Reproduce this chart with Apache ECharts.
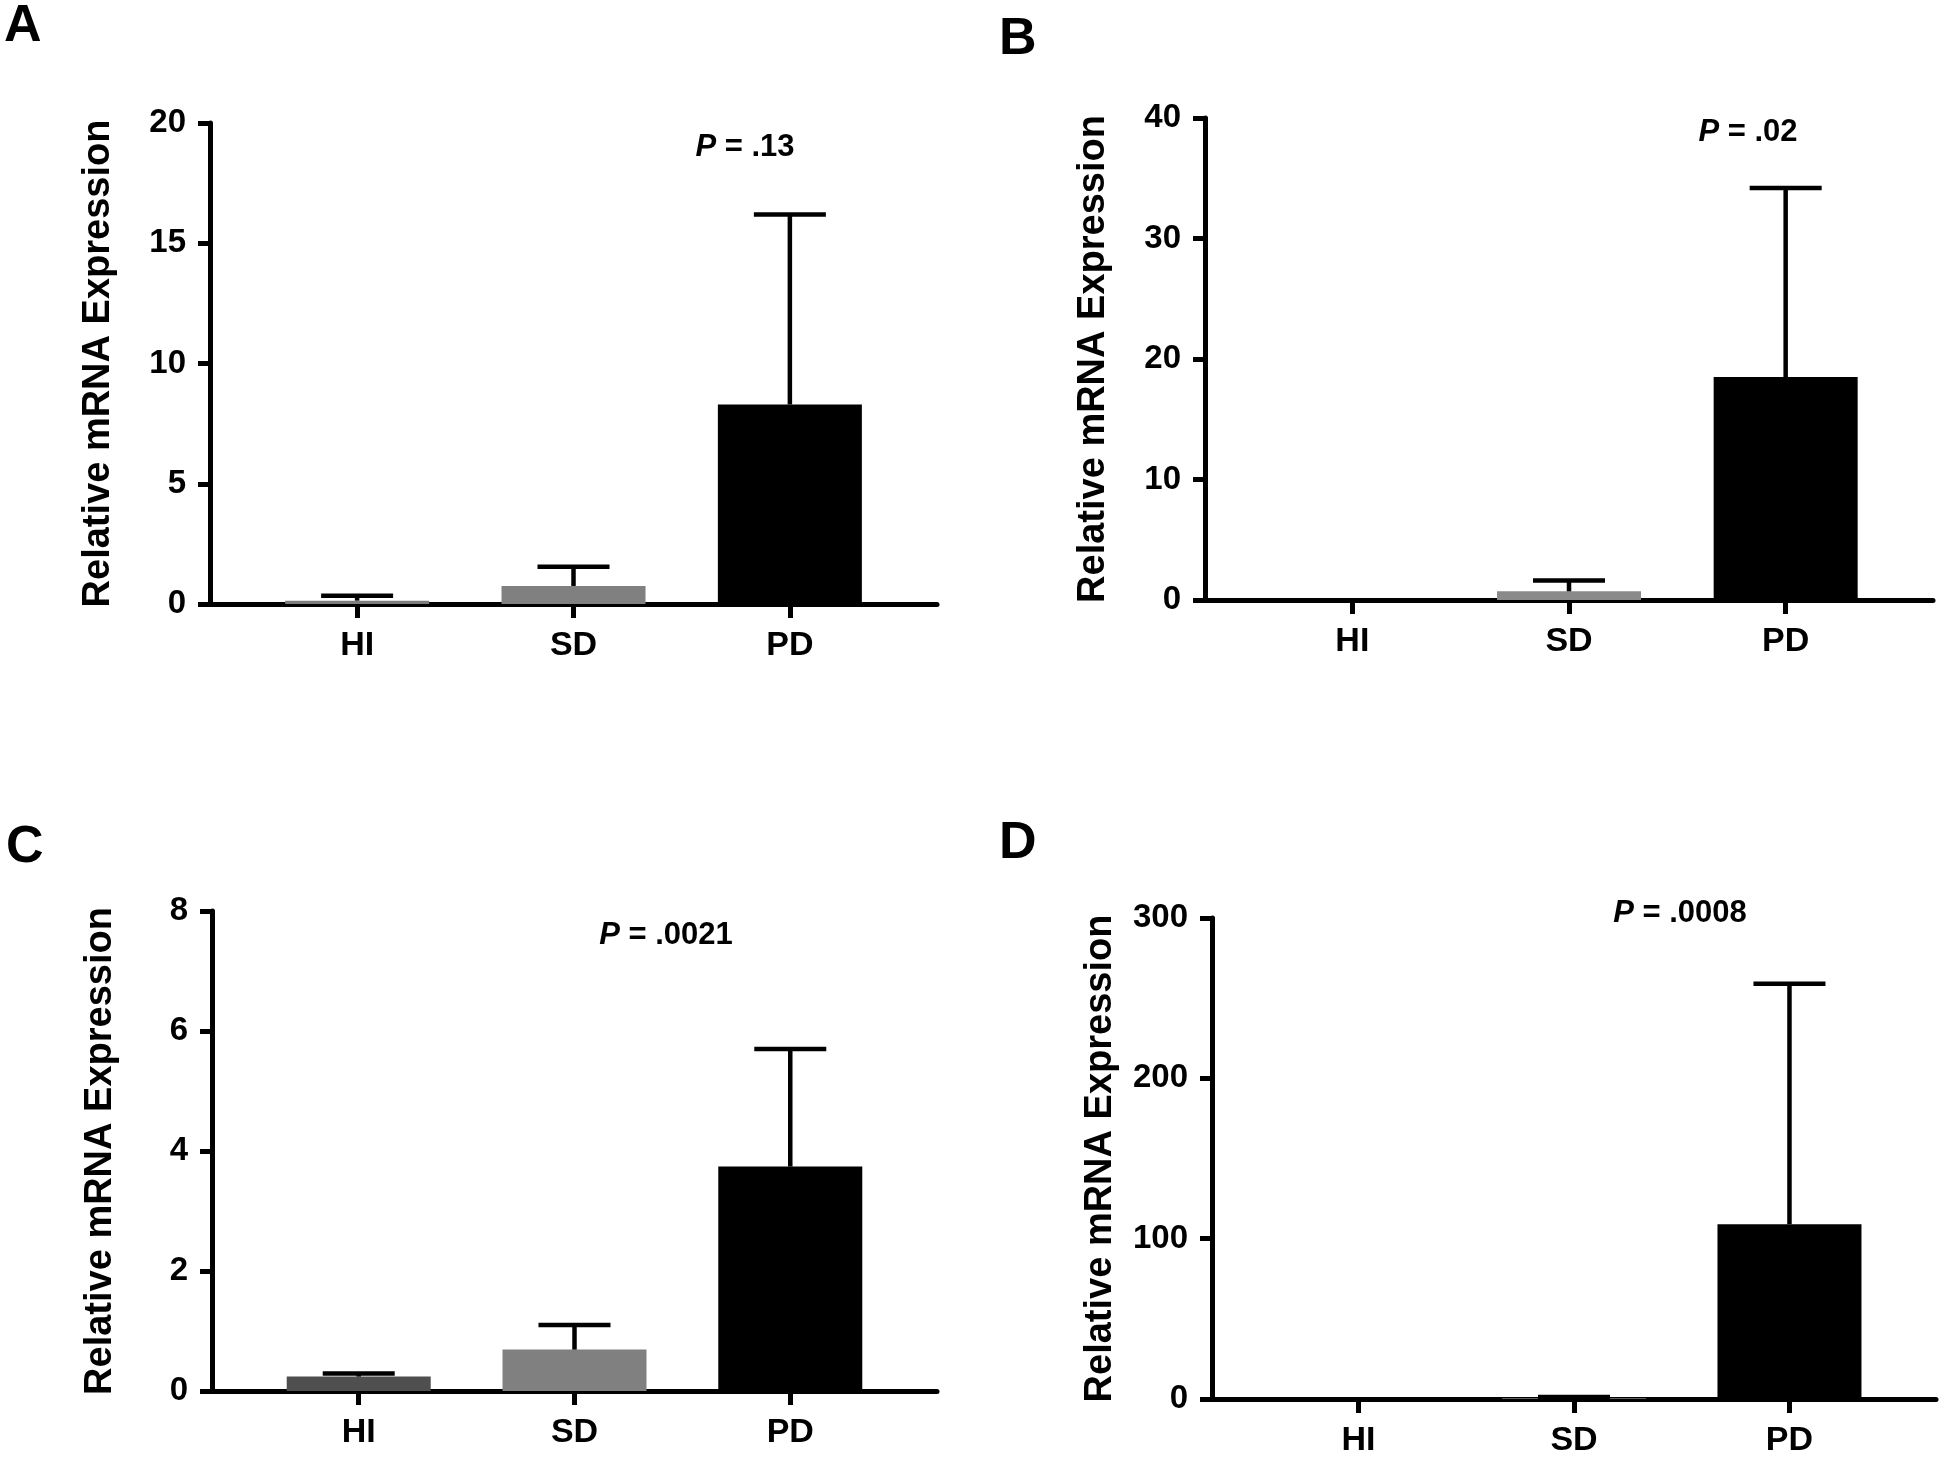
<!DOCTYPE html>
<html>
<head>
<meta charset="utf-8">
<script src="https://cdn.jsdelivr.net/npm/echarts@6/dist/echarts.min.js"></script>
<style>
html,body{margin:0;padding:0;background:#fff;}
#chart{width:1950px;height:1464px;}
</style>
</head>
<body>
<div id="chart"></div>
<script>
// ---- data ----
const categories = ['HI', 'SD', 'PD'];
const panelLetters = ['A', 'B', 'C', 'D'];
const pLabels = ['.13', '.02', '.0021', '.0008'];
const yTitle = 'Relative mRNA Expression';

const meanA = [0.14, 0.75, 8.3];
const errA  = [0.2, 0.8, 7.9];
const meanB = [0, 0.72, 18.5];
const errB  = [0, 0.9, 15.7];
const meanC = [0.24, 0.69, 3.74];
const errC  = [0.05, 0.41, 1.96];
const meanD = [0, 0.4, 109];
const errD  = [0, 0.8, 150];

const yMaxA = 20,  yStepA = 5;
const yMaxB = 40,  yStepB = 10;
const yMaxC = 8,   yStepC = 2;
const yMaxD = 300, yStepD = 100;

// ---- layout / styles ----
const FONT = '"Liberation Sans", Arial, sans-serif';
const panels = [
  {mean: meanA, err: errA, max: yMaxA, step: yStepA, grid: {left: 210, top: 123, width: 727, height: 481},
   colors: ['#7d7d7d', '#808080', '#000000'], letter: [4, 1], p: [745, 147]},
  {mean: meanB, err: errB, max: yMaxB, step: yStepB, grid: {left: 1205, top: 118, width: 728, height: 482},
   colors: ['#7d7d7d', '#8a8a8a', '#000000'], letter: [999, 14], p: [1748, 132]},
  {mean: meanC, err: errC, max: yMaxC, step: yStepC, grid: {left: 212, top: 911, width: 725, height: 480},
   colors: ['#4f4f4f', '#808080', '#000000'], letter: [6, 822], p: [666, 935]},
  {mean: meanD, err: errD, max: yMaxD, step: yStepD, grid: {left: 1212, top: 918, width: 724, height: 481},
   colors: ['#7d7d7d', '#808080', '#000000'], letter: [999, 818], p: [1680, 913]}
];

const grids = [], xAxes = [], yAxes = [], series = [], graphics = [];
panels.forEach((p, i) => {
  grids.push(Object.assign({containLabel: false}, p.grid));
  xAxes.push({
    gridIndex: i, type: 'value', min: -0.68, max: 2.68,
    axisLine: {show: true, onZero: false, lineStyle: {color: '#000', width: 5}},
    axisTick: {show: true, customValues: [0, 1, 2], length: 14, lineStyle: {color: '#000', width: 5}},
    axisLabel: {show: true, customValues: [0, 1, 2], formatter: v => categories[Math.round(v)] || '',
      color: '#000', fontFamily: FONT, fontWeight: 'bold', fontSize: 34, margin: 25},
    splitLine: {show: false}
  });
  yAxes.push({
    gridIndex: i, type: 'value', min: 0, max: p.max, interval: p.step,
    name: yTitle, nameLocation: 'middle', nameRotate: 90, nameGap: 92,
    nameTextStyle: {color: '#000', fontFamily: FONT, fontWeight: 'bold', fontSize: 38},
    axisLine: {show: true, onZero: false, lineStyle: {color: '#000', width: 5}},
    axisTick: {show: true, length: 12, lineStyle: {color: '#000', width: 5}},
    axisLabel: {color: '#000', fontFamily: FONT, fontWeight: 'bold', fontSize: 33, margin: 24},
    splitLine: {show: false}
  });
  series.push({
    type: 'bar', xAxisIndex: i, yAxisIndex: i, barWidth: 144, z: 1,
    data: p.mean.map((v, k) => ({value: [k, v], itemStyle: {color: p.colors[k]}})),
    animation: false
  });
  series.push({
    type: 'custom', xAxisIndex: i, yAxisIndex: i, z: 3, animation: false,
    data: p.mean.map((v, k) => [k, v, p.err[k]]),
    renderItem: function (params, api) {
      const x = api.value(0), m = api.value(1), e = api.value(2);
      if (!(e > 0)) return;
      const a = api.coord([x, m]);
      const b = api.coord([x, m + e]);
      const half = 36;
      const st = {stroke: '#000', lineWidth: 4.5, fill: null};
      return {
        type: 'group',
        children: [
          {type: 'line', shape: {x1: a[0], y1: a[1], x2: b[0], y2: b[1]}, style: st},
          {type: 'line', shape: {x1: b[0] - half, y1: b[1], x2: b[0] + half, y2: b[1]}, style: st}
        ]
      };
    }
  });
  graphics.push({
    type: 'text', x: p.letter[0], y: p.letter[1],
    style: {text: panelLetters[i], font: 'bold 52px ' + FONT, fill: '#000', verticalAlign: 'top', align: 'left'}
  });
  graphics.push({
    type: 'text', x: p.p[0], y: p.p[1],
    style: {
      text: '{i|P} = ' + pLabels[i],
      font: 'bold 31px ' + FONT, fill: '#000', align: 'center', verticalAlign: 'middle',
      rich: {i: {fontStyle: 'italic', fontWeight: 'bold', fontSize: 31, fontFamily: FONT, fill: '#000', color: '#000'}}
    }
  });
});

const chart = echarts.init(document.getElementById('chart'), null, {renderer: 'canvas'});
chart.setOption({
  backgroundColor: '#fff',
  animation: false,
  grid: grids, xAxis: xAxes, yAxis: yAxes, series: series,
  graphic: {elements: graphics}
});
</script>
</body>
</html>
